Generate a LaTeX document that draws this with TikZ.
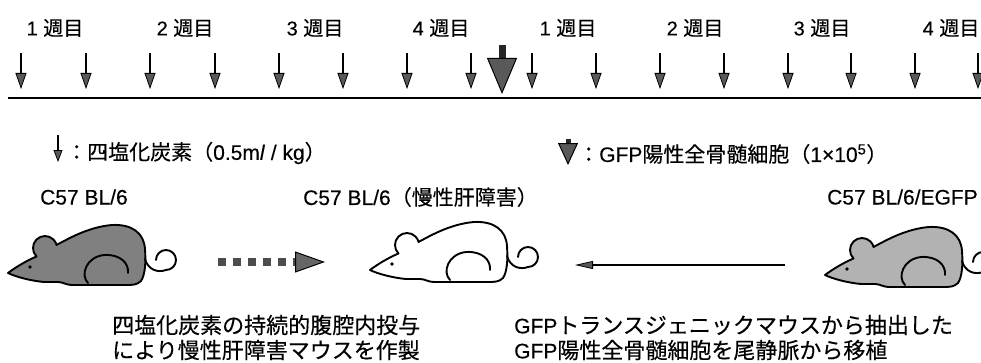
\documentclass[tikz,border=0pt]{standalone}
\usepackage{fontspec}
\setmainfont[FakeBold=0.3]{Liberation Sans}
\newfontfamily\jp[FakeBold=0.3]{Noto Sans CJK JP}
\usetikzlibrary{arrows.meta}

\begin{document}
\begin{tikzpicture}[x=1pt,y=1pt,
  txt/.style={inner sep=0pt, font=\fontsize{21}{24}\selectfont},
  cjktxt/.style={inner sep=0pt, font=\fontsize{22}{24}\selectfont\jp},
  weeklbl/.style={inner sep=0pt, font=\fontsize{20}{24}\selectfont},
  dose/.style={draw=black, line width=1.3pt,
    -{Triangle[length=16pt,width=11pt,fill=black!65,line width=0.8pt]}},
  dosekey/.style={draw=black, line width=1.2pt,
    -{Triangle[length=12pt,width=9pt,fill=black!65,line width=0.8pt]}},
  graft/.style={draw=black!85, line width=7pt,
    -{Triangle[length=36pt,width=30pt,fill=black!65,color=black,line width=1pt]}},
  graftkey/.style={draw=black!85, line width=5pt,
    -{Triangle[length=22pt,width=20pt,fill=black!65,color=black,line width=1pt]}},
  timeline/.style={draw=black, line width=2pt},
  treat/.style={draw=black!70, line width=8pt, dash pattern=on 8pt off 7pt,
    -{Triangle[length=30pt,width=21pt,fill=black!60,color=black,line width=1pt]}},
  transfer/.style={draw=black, line width=2pt,
    -{Triangle[length=18pt,width=8pt,fill=black!65,line width=0.8pt]}},
  mouseline/.style={draw=black, line width=1.9pt, line join=round, line cap=round},
  pics/mouse/.style={code={
    % body outline with the ear
    \path[mouseline, fill=#1]
      (0,0) .. controls (8,6) and (18,12) .. (28.5,16.5)
      arc[start angle=225, end angle=15, radius=12]
      .. controls (60,34) and (80,46) .. (104,48)
      .. controls (124,49) and (136,40) .. (137,24)
      .. controls (138,10) and (137,-2) .. (133,-8)
      .. controls (129,-12) and (124,-12) .. (118,-12)
      -- (64,-12)
      .. controls (58,-12) and (55,-9) .. (50,-9)
      -- (36,-9)
      .. controls (24,-8) and (8,-4) .. (0,0) -- cycle;
    % hind leg
    \draw[mouseline] (80,-10) .. controls (72,-2) and (78,16) .. (96,18)
      .. controls (112,19) and (121,10) .. (120,0);
    % eye
    \fill (22,6) circle[radius=1.9];
    % tail
    \draw[mouseline] (137,14) .. controls (140,3) and (150,0) .. (158,3)
      arc[start angle=-90, end angle=180, radius=10];
  }}
]
\useasboundingbox (0,0) rectangle (981,362);

% week labels
\foreach \x/\w [count=\i] in {55/1,185/2,315/3,441/4,568/1,695/2,822/3,951/4}
  \node[weeklbl] (wk\i) at (\x,334) {\w\ {\jp 週目}};

% timeline
\coordinate (tlA) at (8,264);
\coordinate (tlB) at (981,264);
\draw[timeline] (tlA) -- (tlB);

% CCl4 doses, twice a week
\foreach \x [count=\i] in {21,86,150,215,279,343,407,471,532,596,660,724,788,851,915,978} {
  \coordinate (dt\i) at (\x,309);
  \coordinate (db\i) at (\x,273);
  \draw[dose] (dt\i) -- (db\i);
}

% bone marrow transplantation
\coordinate (gt) at (502,317);
\coordinate (gb) at (502,268);
\draw[graft] (gt) -- (gb);

% legend
\coordinate (k1t) at (58,227);
\coordinate (k1b) at (58,200);
\draw[dosekey] (k1t) -- (k1b);
\node[txt, anchor=west] (key1) at (66,209)
  {{\jp ：四塩化炭素（}0.5m\textit{l} / kg{\jp ）}};
\coordinate (k2t) at (568,223);
\coordinate (k2b) at (568,197);
\draw[graftkey] (k2t) -- (k2b);
\node[txt, anchor=west] (key2) at (578,208)
  {{\jp ：}GFP{\jp 陽性全骨髄細胞（}1×10\textsuperscript{5}{\jp ）}};

% strains
\node[txt, anchor=west] (s1) at (40,165) {C57 BL/6};
\node[txt, anchor=west] (s2) at (303,165) {C57 BL/6{\jp （慢性肝障害）}};
\node[txt, anchor=west] (s3) at (827,165) {C57 BL/6/EGFP};

% mice
\pic (m1) at (8,89) {mouse=black!50};
\pic (m2) at (370,92) {mouse=white};
\pic (m3) at (825,87) {mouse=black!30};

% procedure arrows
\coordinate (p1a) at (218,100);
\coordinate (p1b) at (325,100);
\draw[treat] (p1a) -- (p1b);
\coordinate (p2a) at (785,97);
\coordinate (p2b) at (575,97);
\draw[transfer] (p2a) -- (p2b);

% captions
\node[cjktxt, anchor=west] (c1) at (112,37) {四塩化炭素の持続的腹腔内投与};
\node[cjktxt, anchor=west] (c2) at (112,12) {により慢性肝障害マウスを作製};
\node[txt, anchor=west] (c3) at (514,37) {GFP{\fontsize{22}{24}\selectfont\jp トランスジェニックマウスから抽出した}};
\node[txt, anchor=west] (c4) at (514,12) {GFP{\fontsize{22}{24}\selectfont\jp 陽性全骨髄細胞を尾静脈から移植}};
\end{tikzpicture}
\end{document}
